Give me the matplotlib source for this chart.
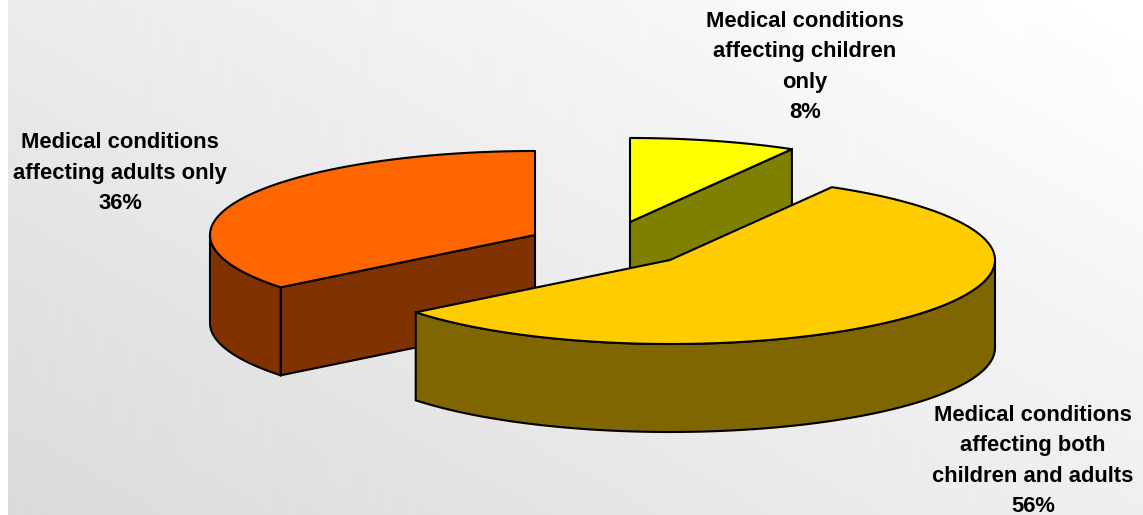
#!/usr/bin/env python
# -*- coding: utf-8 -*-

import numpy as np
from matplotlib import pyplot as plt
from matplotlib.patches import Polygon

# shares of the pie, clockwise from 12 o'clock
labels = ['Medical conditions\naffecting children\nonly',
          'Medical conditions\naffecting both\nchildren and adults',
          'Medical conditions\naffecting adults only']
values = [8.3, 56.0, 35.7]
top_colors = ['#FFFF00', '#FFCC00', '#FF6600']
side_colors = ['#808000', '#806600', '#803300']

# pixel layout of the exploded pie
centers = [(630, 222), (670, 260), (535, 235)]
label_pos = [(805, 67), (1033, 461), (120, 173)]
RX = 325
RY = 84
DEPTH = 88
EDGE = 1.5


def ellipse(cx, cy, a):
    """ point(s) on the rim for angle(s) a in degrees """
    a = np.radians(a)
    return cx + RX * np.cos(a), cy - RY * np.sin(a)


def outer_wall(ax, cx, cy, a1, a2, color, z):
    """ rim wall, only the part of a1 (start) .. a2 (end, clockwise) facing us """
    lo = max(a2, -180)
    hi = min(a1, 0)
    if lo >= hi:
        return
    t = np.linspace(hi, lo, 80)
    x, y = ellipse(cx, cy, t)
    pts = np.r_[np.c_[x, y], np.c_[x, y + DEPTH][::-1]]
    ax.add_patch(Polygon(pts, fc=color, ec='black', lw=EDGE, zorder=z))


def cut_face(ax, cx, cy, a, color, z):
    """ flat cut side between the centre and the rim at angle a """
    x, y = ellipse(cx, cy, a)
    pts = [(cx, cy), (x, y), (x, y + DEPTH), (cx, cy + DEPTH)]
    ax.add_patch(Polygon(pts, fc=color, ec='black', lw=EDGE, zorder=z))


def top_face(ax, cx, cy, a1, a2, color, z):
    t = np.linspace(a1, a2, 160)
    x, y = ellipse(cx, cy, t)
    pts = np.r_[[(cx, cy)], np.c_[x, y]]
    ax.add_patch(Polygon(pts, fc=color, ec='black', lw=EDGE, joinstyle='round', zorder=z))


fig = plt.figure(figsize=(11.43, 5.15), dpi=100)
ax = fig.add_axes([0, 0, 1, 1])
ax.axis('off')

# diagonal grey background, starts a few pixels from the left
yy, xx = np.mgrid[0:515, 0:1143]
bg = (235 + 0.018 * xx - 0.0325 * yy) / 255.0
ax.imshow(np.clip(bg, 0, 1), cmap='gray', vmin=0, vmax=1,
          extent=(8, 1143, 515, 0), aspect='auto', zorder=0)
ax.set_xlim(0, 1143)
ax.set_ylim(515, 0)

ends = 90 - np.cumsum(values) * 3.6
starts = np.r_[90, ends[:-1]]

# back to front: adults slice, children slice, then the big slice
# children show the cut at their end, adults at their start
cut_face(ax, centers[2][0], centers[2][1], starts[2], side_colors[2], 10)
cut_face(ax, centers[0][0], centers[0][1], ends[0], side_colors[0], 20)
for i, z in zip([2, 0, 1], [10, 20, 30]):
    cx, cy = centers[i]
    outer_wall(ax, cx, cy, starts[i], ends[i], side_colors[i], z + 1)
    top_face(ax, cx, cy, starts[i], ends[i], top_colors[i], z + 2)

for lab, val, (x, y) in zip(labels, values, label_pos):
    ax.text(x, y, '%s\n%.0f%%' % (lab, val), ha='center', va='center',
            family='Liberation Sans', weight='bold', fontsize=15.8,
            linespacing=1.57, color='black', zorder=50)

plt.savefig('out.png', dpi=100)
